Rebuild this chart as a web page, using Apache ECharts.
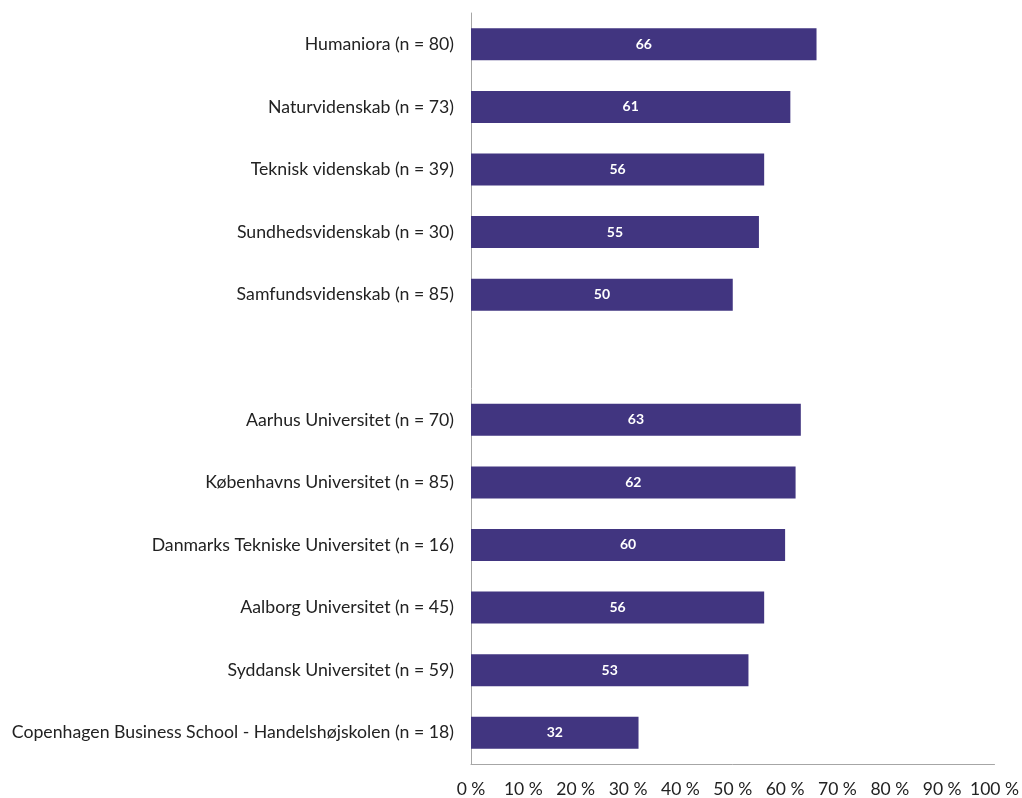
<!DOCTYPE html>
<html><head><meta charset="utf-8">
<script src="https://cdn.jsdelivr.net/npm/echarts@6/dist/echarts.min.js"></script>
<style>html,body{margin:0;padding:0;background:#fff}#c{width:1022px;height:798px}</style>
</head><body><div id="c"></div>
<script>
const categories = [
  'Humaniora (n = 80)',
  'Naturvidenskab (n = 73)',
  'Teknisk videnskab (n = 39)',
  'Sundhedsvidenskab (n = 30)',
  'Samfundsvidenskab (n = 85)',
  '',
  'Aarhus Universitet (n = 70)',
  'Københavns Universitet (n = 85)',
  'Danmarks Tekniske Universitet (n = 16)',
  'Aalborg Universitet (n = 45)',
  'Syddansk Universitet (n = 59)',
  'Copenhagen Business School - Handelshøjskolen (n = 18)'
];
const values = [66, 61, 56, 55, 50, null, 63, 62, 60, 56, 53, 32];
const xTicks = [0, 10, 20, 30, 40, 50, 60, 70, 80, 90, 100];

const chart = echarts.init(document.getElementById('c'), null, {renderer: 'canvas'});
const font = 'Lato, "Open Sans", sans-serif';
chart.setOption({
  animation: false,
  textStyle: {fontFamily: font},
  grid: {left: 471, right: 24, top: 13, bottom: 33, containLabel: false},
  xAxis: {
    type: 'value', min: xTicks[0], max: xTicks[xTicks.length - 1], interval: 10,
    axisLine: {show: true, lineStyle: {color: '#a6a6a6', width: 1}},
    axisTick: {show: false},
    splitLine: {show: false},
    axisLabel: {formatter: v => v + ' %', color: '#222', fontSize: 17.5, margin: 16, fontFamily: font}
  },
  yAxis: {
    type: 'category', data: categories, inverse: true,
    axisLine: {show: true, lineStyle: {color: '#a6a6a6', width: 1}},
    axisTick: {show: false},
    axisLabel: {color: '#222', fontSize: 17.7, margin: 17, fontFamily: font}
  },
  series: [{
    type: 'bar', data: values, barWidth: 32,
    itemStyle: {color: '#413580'},
    label: {show: true, position: 'inside', color: '#fff', fontSize: 14, fontWeight: 'bold', fontFamily: font}
  }]
});
</script></body></html>
